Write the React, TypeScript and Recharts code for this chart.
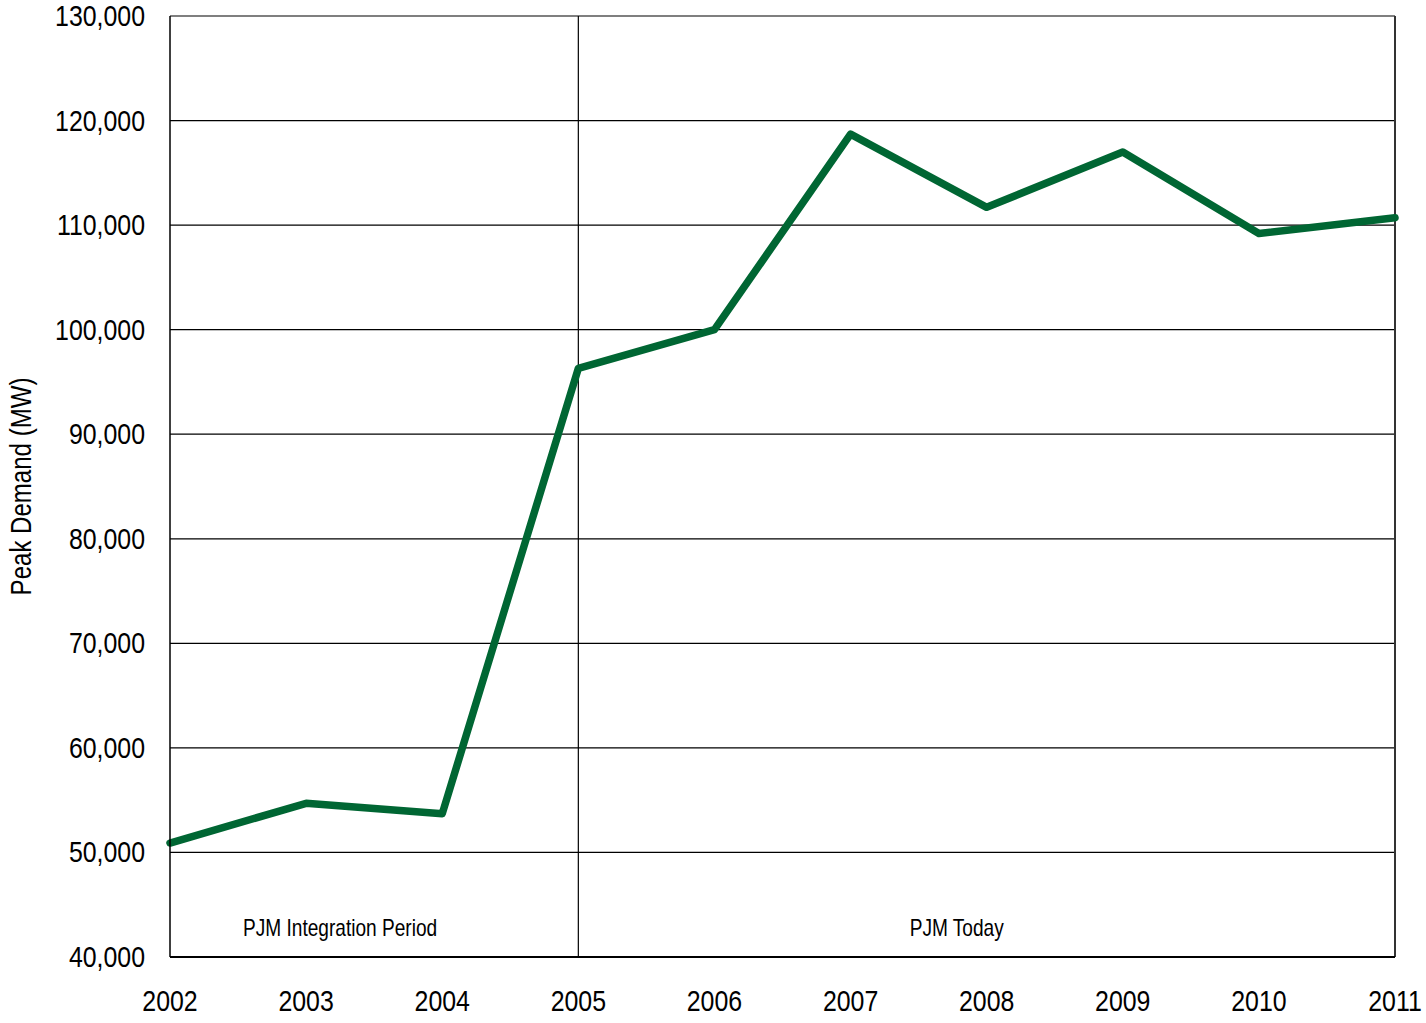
import { LineChart, Line, XAxis, YAxis, CartesianGrid, ReferenceLine, ReferenceDot, Label } from "recharts";

const years = ["2002", "2003", "2004", "2005", "2006", "2007", "2008", "2009", "2010", "2011"];
const peakDemand = [50900, 54700, 53700, 96300, 100000, 118700, 111700, 117000, 109200, 110700];
const yTicks = [40000, 50000, 60000, 70000, 80000, 90000, 100000, 110000, 120000, 130000];

const data = years.map((year, i) => ({ year, value: peakDemand[i] }));

const FONT = "'Liberation Sans', Arial, sans-serif";
// the original uses a narrow font; squeeze Liberation Sans horizontally instead
const NARROW = 0.83;

const NarrowText = ({ x, y, size, anchor = "middle", rotate = 0, children }: any) => (
  <text
    transform={`translate(${x},${y}) rotate(${rotate}) scale(${NARROW},1)`}
    textAnchor={anchor}
    fontSize={size}
    fontFamily={FONT}
    fill="#000"
  >
    {children}
  </text>
);

const XTick = ({ x, y, payload }: any) => (
  <NarrowText x={x} y={y + 52} size={30}>
    {payload.value}
  </NarrowText>
);

const YTick = ({ x, y, payload }: any) => (
  <NarrowText x={x} y={y + 10} size={30} anchor="end">
    {payload.value.toLocaleString("en-US")}
  </NarrowText>
);

const YLabel = ({ viewBox }: any) => (
  <NarrowText x={31} y={viewBox.y + viewBox.height / 2} size={29} rotate={-90}>
    Peak Demand (MW)
  </NarrowText>
);

const noteLabel = (text: string, dx: number) => ({ viewBox }: any) => (
  <NarrowText x={viewBox.x + viewBox.width / 2 + dx} y={viewBox.y + viewBox.height / 2 + 8} size={23}>
    {text}
  </NarrowText>
);

export default function App() {
  return (
    <div style={{ position: "absolute", left: 0, top: 0, width: 1426, height: 1023, background: "#fff" }}>
      <LineChart
        width={1426}
        height={1023}
        data={data}
        margin={{ top: 16, right: 31, left: 0, bottom: 0 }}
      >
        <CartesianGrid vertical={false} stroke="#000" strokeWidth={1.2} />
        <XAxis
          dataKey="year"
          padding={{ left: 0, right: 0 }}
          height={66}
          tickLine={false}
          tickSize={0}
          axisLine={{ stroke: "#000", strokeWidth: 2 }}
          tick={<XTick />}
          interval={0}
        />
        <YAxis
          domain={[40000, 130000]}
          ticks={yTicks}
          width={170}
          tickLine={false}
          tickSize={0}
          tickMargin={25}
          axisLine={{ stroke: "#000", strokeWidth: 1.5 }}
          tick={<YTick />}
          interval={0}
        >
          <Label content={<YLabel />} position="insideLeft" />
        </YAxis>
        <ReferenceLine x="2005" stroke="#000" strokeWidth={1.2} />
        <ReferenceLine x="2011" stroke="#333" strokeWidth={2} />
        <ReferenceDot x="2003" y={42800} r={0} fill="none" stroke="none">
          <Label content={noteLabel("PJM Integration Period", 34)} position="center" />
        </ReferenceDot>
        <ReferenceDot x="2008" y={42800} r={0} fill="none" stroke="none">
          <Label content={noteLabel("PJM Today", -30)} position="center" />
        </ReferenceDot>
        <Line
          type="linear"
          dataKey="value"
          stroke="#006633"
          strokeWidth={7.5}
          dot={false}
          activeDot={false}
          strokeLinejoin="round"
          strokeLinecap="round"
          isAnimationActive={false}
        />
      </LineChart>
    </div>
  );
}
